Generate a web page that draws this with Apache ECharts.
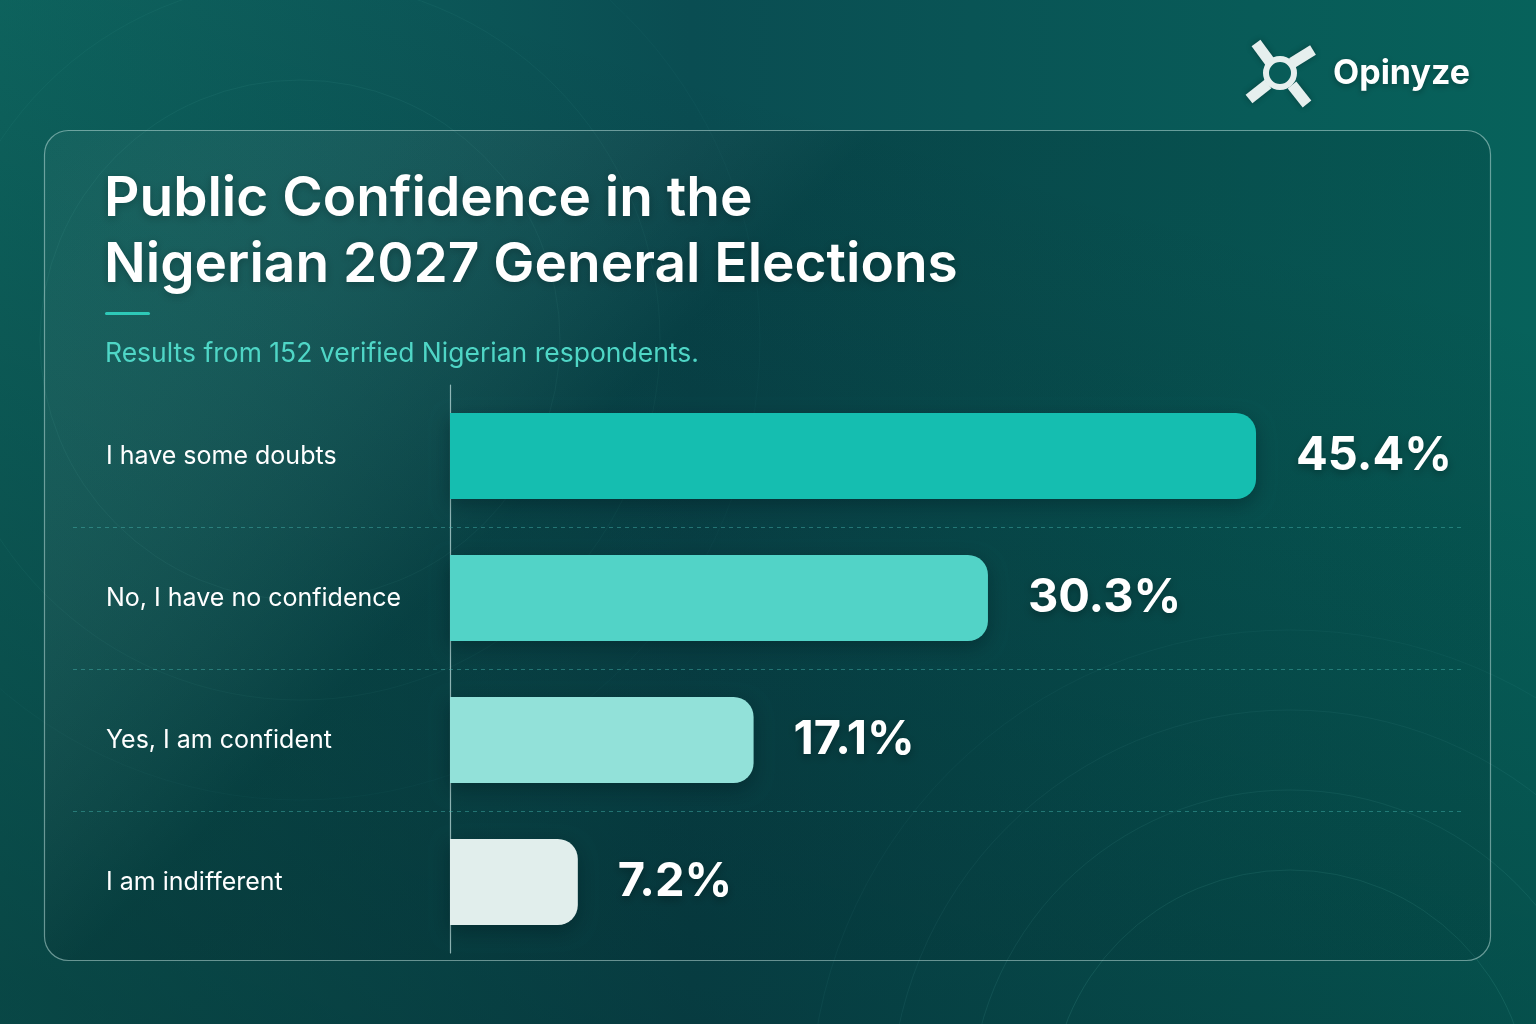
<!DOCTYPE html>
<html><head><meta charset="utf-8">
<script src="https://cdn.jsdelivr.net/npm/echarts@6/dist/echarts.min.js"></script>
<style>html,body{margin:0;padding:0;background:#0a4a4c;}#c{width:1536px;height:1024px;}</style>
</head><body><div id="c"></div>
<script>
const categories = ['I have some doubts', 'No, I have no confidence', 'Yes, I am confident', 'I am indifferent'];
const values = [45.4, 30.3, 17.1, 7.2];
const barColors = ['#15beb0', '#52d3c7', '#92e1d9', '#e1eeec'];
const titleLines = ['Public Confidence in the', 'Nigerian 2027 General Elections'];
const subtitle = 'Results from 152 verified Nigerian respondents.';
const brand = 'Opinyze';

const FONT = 'Inter, "Noto Sans", sans-serif';
const GRID_TOP = 385, GRID_H = 568, GRID_LEFT = 450, GRID_RIGHT = 74;
const band = GRID_H / categories.length;

const chart = echarts.init(document.getElementById('c'), null, {renderer: 'canvas'});

const graphics = [
  // background base
  {type: 'rect', silent: true, z: -10, shape: {x: 0, y: 0, width: 1536, height: 1024},
   style: {fill: new echarts.graphic.LinearGradient(0, 0, 1, 0, [
     {offset: 0, color: '#0e6660'}, {offset: 0.45, color: '#0a4d52'}, {offset: 1, color: '#07625b'}])}},
  // vertical darkening
  {type: 'rect', silent: true, z: -10, shape: {x: 0, y: 0, width: 1536, height: 1024},
   style: {fill: new echarts.graphic.LinearGradient(0.3, 0, 0.1, 1, [
     {offset: 0, color: 'rgba(0,25,30,0)'}, {offset: 1, color: 'rgba(0,25,30,0.4)'}])}},
];
// faint decorative arcs
[240, 320, 400, 480].forEach((r, i) => graphics.push({type: 'circle', silent: true, z: -9,
  shape: {cx: 1290, cy: 1110, r: r}, style: {fill: 'none', stroke: 'rgba(110,210,200,' + (0.12 - i * 0.02) + ')', lineWidth: 1}}));
[260, 360, 460].forEach((r, i) => graphics.push({type: 'circle', silent: true, z: -9,
  shape: {cx: 300, cy: 340, r: r}, style: {fill: 'none', stroke: 'rgba(110,210,200,' + (0.07 - i * 0.015) + ')', lineWidth: 1}}));
graphics.push(
  // card
  {type: 'rect', silent: true, z: -5, shape: {x: 44.5, y: 130.5, width: 1446, height: 830, r: 24},
   style: {fill: new echarts.graphic.LinearGradient(0, 0, 0.6, 1, [
     {offset: 0, color: 'rgba(255,255,255,0.03)'}, {offset: 0.5, color: 'rgba(0,25,30,0.18)'}, {offset: 1, color: 'rgba(0,25,30,0.12)'}]),
     stroke: 'rgba(200,232,228,0.5)', lineWidth: 1.2}},
  // title
  {type: 'text', left: 104, top: 166, z: 5, style: {text: titleLines.join('\n'), fill: '#ffffff', font: '600 55px ' + FONT, lineHeight: 66,
    textShadowColor: 'rgba(0,0,0,0.25)', textShadowBlur: 8, textShadowOffsetY: 2}},
  // accent line
  {type: 'rect', z: 5, shape: {x: 105, y: 312, width: 45, height: 3, r: 1.5}, style: {fill: '#2ec9b8'}},
  // subtitle
  {type: 'text', left: 105, top: 341, z: 5, style: {text: subtitle, fill: '#4fd6c6', font: '400 26.5px ' + FONT}},
  // brand text
  {type: 'text', left: 1333, top: 57, z: 5, style: {text: brand, fill: '#ffffff', font: '700 34px ' + FONT,
    textShadowColor: 'rgba(0,0,0,0.3)', textShadowBlur: 6, textShadowOffsetY: 2}}
);
// logo
const logoStyle = {stroke: '#e6efee', lineWidth: 11, lineCap: 'butt', shadowColor: 'rgba(0,0,0,0.3)', shadowBlur: 6};
[[1256, 43, 1270, 62], [1313, 50, 1292, 63], [1249, 99, 1268, 84], [1307, 104, 1292, 85]].forEach(s => {
  graphics.push({type: 'line', z: 6, shape: {x1: s[0], y1: s[1], x2: s[2], y2: s[3]}, style: logoStyle});
});
graphics.push({type: 'circle', z: 7, shape: {cx: 1280, cy: 73, r: 14}, style: {fill: 'none', stroke: '#e6efee', lineWidth: 6}});
// dashed row separators
for (let i = 1; i < categories.length; i++) {
  const y = Math.round(GRID_TOP + i * band) + 0.5;
  graphics.push({type: 'line', z: 1, silent: true, shape: {x1: 73, y1: y, x2: 1462, y2: y},
    style: {stroke: 'rgba(70,185,178,0.45)', lineWidth: 1, lineDash: [4, 4]}});
}

chart.setOption({
  animation: false,
  textStyle: {fontFamily: FONT},
  grid: {left: GRID_LEFT, right: GRID_RIGHT, top: GRID_TOP, height: GRID_H, containLabel: false},
  xAxis: {type: 'value', min: 0, max: 57, show: false},
  yAxis: {
    type: 'category', data: categories, inverse: true,
    axisLine: {show: true, lineStyle: {color: 'rgba(200,230,228,0.7)', width: 1.2}},
    axisTick: {show: false},
    splitLine: {show: false},
    axisLabel: {color: '#ffffff', fontSize: 25, fontFamily: FONT, align: 'left', margin: GRID_LEFT - 106}
  },
  series: [{
    type: 'bar', barWidth: 86, z: 3,
    data: values.map((v, i) => ({value: v, itemStyle: {color: barColors[i]}})),
    itemStyle: {borderRadius: [0, 20, 20, 0], shadowColor: 'rgba(0,20,25,0.35)', shadowBlur: 18, shadowOffsetY: 6},
    label: {show: true, position: 'right', distance: 40, formatter: p => p.value.toFixed(1) + '%',
      color: '#ffffff', fontSize: 47, fontWeight: 700, fontFamily: FONT,
      textShadowColor: 'rgba(0,0,0,0.3)', textShadowBlur: 8, textShadowOffsetY: 3}
  }],
  graphic: graphics
});
</script></body></html>
